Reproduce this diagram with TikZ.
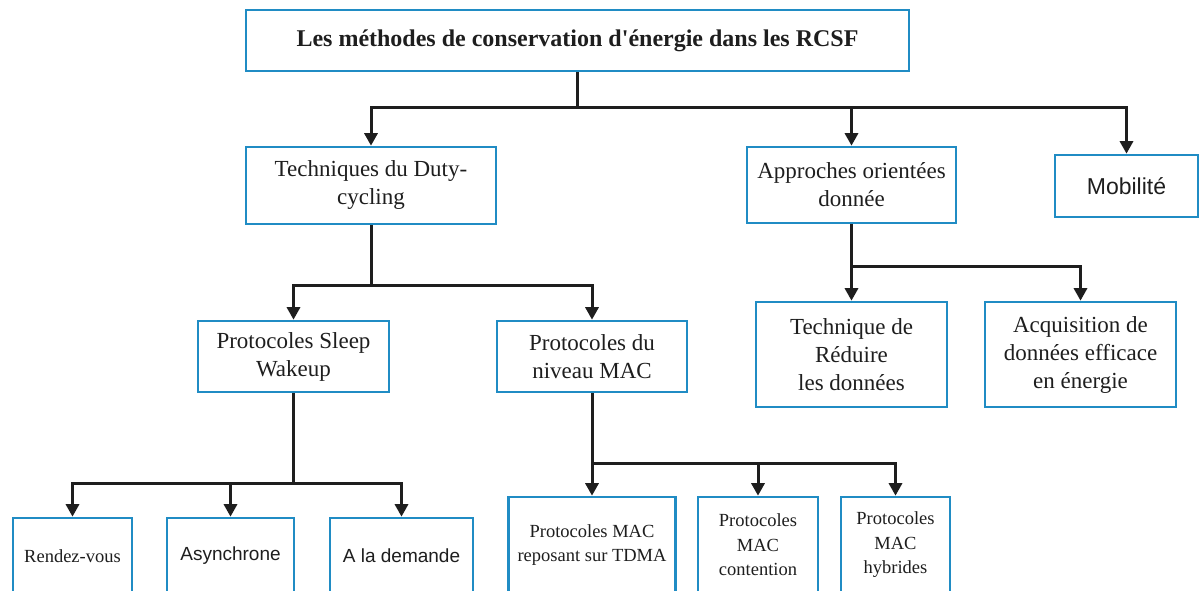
\documentclass[tikz,border=0pt]{standalone}
\usepackage{fontspec}
\setmainfont{Liberation Serif}
\newfontfamily\arialfont{Liberation Sans}
\usetikzlibrary{arrows.meta}
\definecolor{boxblue}{RGB}{32,140,196}
\definecolor{ink}{RGB}{30,30,30}
\begin{document}
\begin{tikzpicture}[x=1pt,y=-1pt,
  box/.style={draw=boxblue,line width=2.6pt,fill=white,align=center,
    inner sep=0pt,text=ink,font=\fontsize{23}{28}\selectfont},
  smallbox/.style={box,font=\fontsize{18.5}{24.5}\selectfont},
  link/.style={draw=ink,line width=3pt},
  arr/.style={link,-{Triangle[width=13pt,length=12.5pt]}}]
\useasboundingbox (0,0) rectangle (1199,591);
\fill[white] (0,0) rectangle (1199,591);

% root
\node[box,minimum width=663pt,minimum height=61pt,
  font=\fontsize{24}{28}\selectfont\bfseries] (root) at (577.5,40.5)
  {Les méthodes de conservation d\textquotesingle énergie dans les RCSF};

% first level
\node[box,minimum width=250pt,minimum height=77pt] (duty) at (371,185.5)
  {Techniques du Duty-\\cycling};
\node[box,minimum width=209pt,minimum height=76pt] (appr) at (851.5,185)
  {Approches orientées\\donnée};
\node[box,minimum width=143pt,minimum height=62pt,
  font=\fontsize{23}{28}\selectfont\arialfont] (mob) at (1126.5,186)
  {Mobilité};

% second level
\node[box,minimum width=191pt,minimum height=71pt] (sleep) at (293.5,356.5)
  {Protocoles Sleep\\Wakeup};
\node[box,minimum width=190pt,minimum height=71pt] (mac) at (592,356.5)
  {Protocoles du\\niveau MAC};
\node[box,minimum width=191pt,minimum height=105pt] (reduc) at (851.5,354.5)
  {Technique de\\Réduire\\les données};
\node[box,minimum width=191pt,minimum height=105pt] (acq) at (1080.5,354.5)
  {Acquisition de\\données efficace\\en énergie};

% third level
\node[smallbox,minimum width=119pt,minimum height=76pt] (rdv) at (72.5,556)
  {Rendez-vous};
\node[smallbox,minimum width=127pt,minimum height=76pt,
  font=\fontsize{19}{24}\selectfont\arialfont] (async) at (230.5,556)
  {\raisebox{-1pt}{Asynchrone}};
\node[smallbox,minimum width=143pt,minimum height=76pt,
  font=\fontsize{19}{24}\selectfont\arialfont] (dem) at (401.5,556)
  {\raisebox{-1pt}{A la demande}};
\node[smallbox,minimum width=167pt,minimum height=96pt] (tdma) at (592,545)
  {Protocoles MAC\\reposant sur TDMA};
\node[smallbox,minimum width=120pt,minimum height=96pt] (cont) at (758,545)
  {Protocoles\\MAC\\contention};
\node[smallbox,minimum width=109pt,minimum height=96pt] (hyb) at (895.5,545)
  {Protocoles\\MAC\\hybrides};

% connectors: a trunk down from each parent, then branches to the children
\path (root.south) ++(0,35) coordinate (j0);
\draw[link] (root.south) -- (j0);
\draw[arr] (j0) -| (duty.north);
\draw[arr] (j0) -| (appr.north);
\draw[arr] (j0) -| (mob.north);

\path (duty.south) ++(0,60) coordinate (j1);
\draw[link] (duty.south) -- (j1);
\draw[arr] (j1) -| (sleep.north);
\draw[arr] (j1) -| (mac.north);

\path (appr.south) ++(0,42) coordinate (j2);
\draw[link] (appr.south) -- (j2);
\draw[arr] (j2) -- (reduc.north);
\draw[arr] (j2) -| (acq.north);

\path (sleep.south) ++(0,90) coordinate (j3);
\draw[link] (sleep.south) -- (j3);
\draw[arr] (j3) -| (rdv.north);
\draw[arr] (j3) -| (async.north);
\draw[arr] (j3) -| (dem.north);

\path (mac.south) ++(0,70) coordinate (j4);
\draw[link] (mac.south) -- (j4);
\draw[arr] (j4) -- (tdma.north);
\draw[arr] (j4) -| (cont.north);
\draw[arr] (j4) -| (hyb.north);
\end{tikzpicture}
\end{document}
